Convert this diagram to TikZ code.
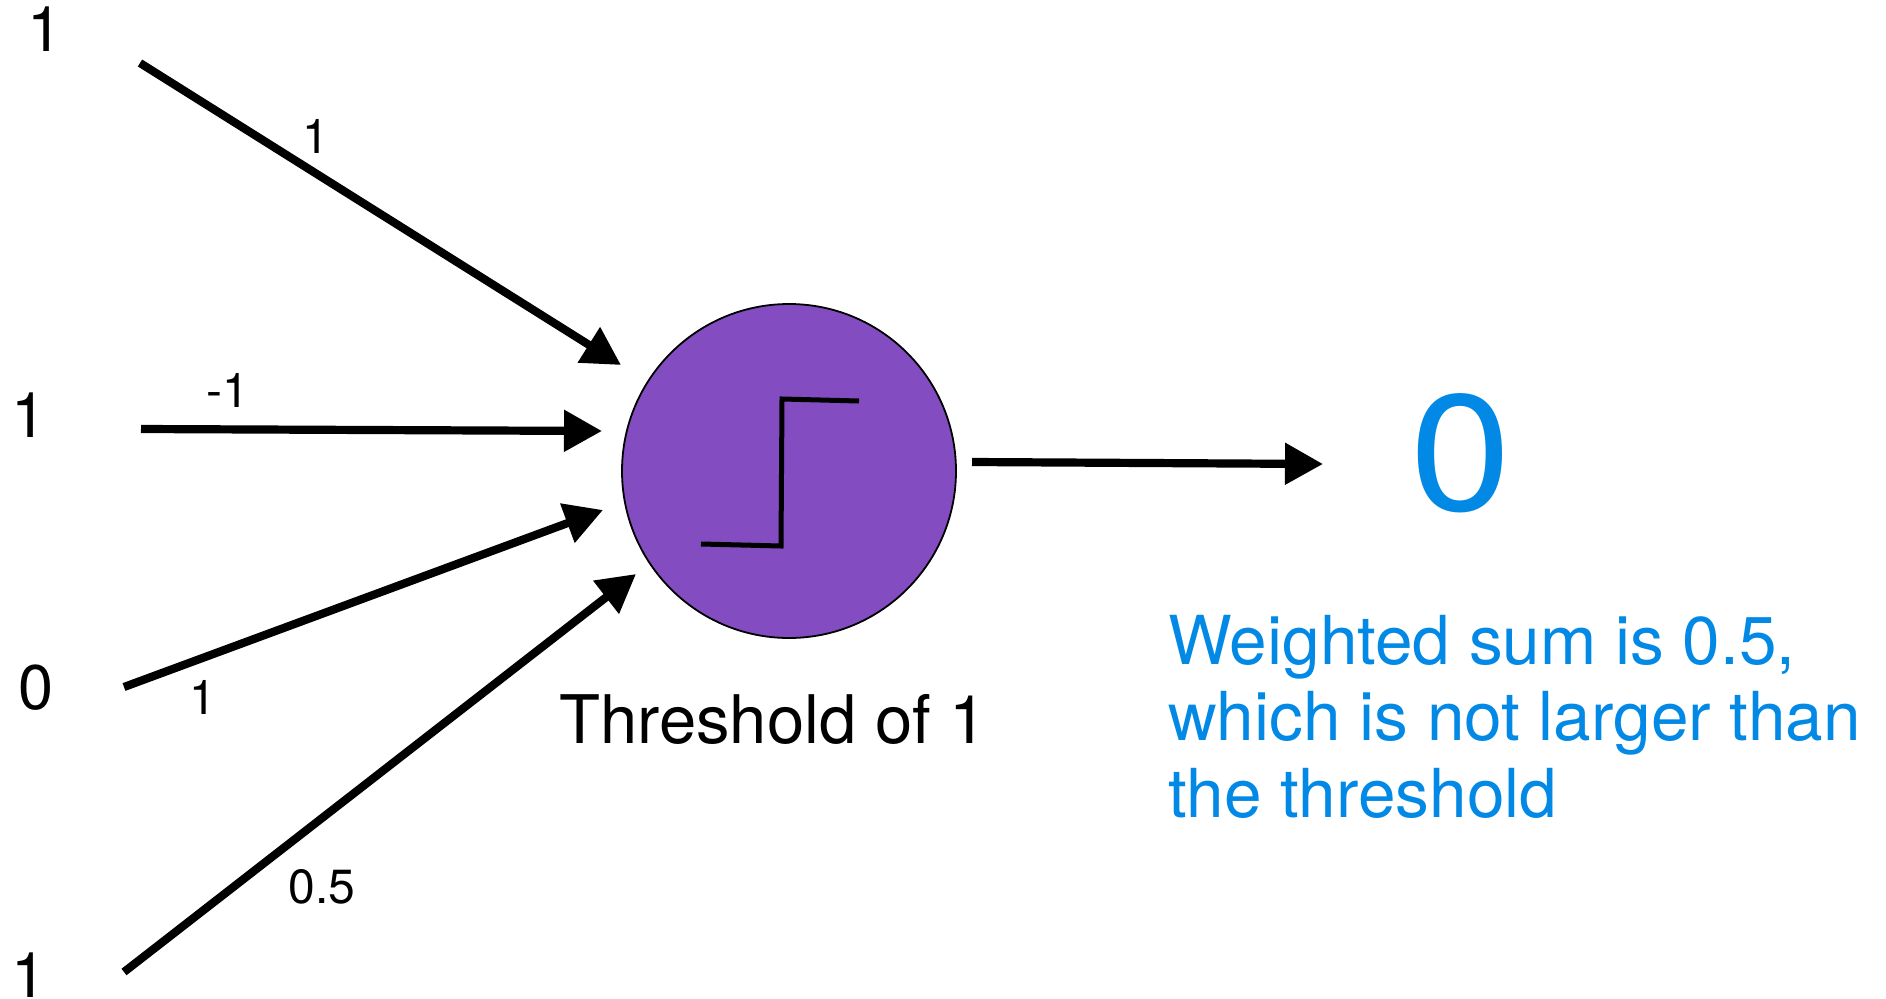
\documentclass[tikz,border=0pt]{standalone}
\usepackage{fontspec}
\setmainfont{TeX Gyre Heros}
\usetikzlibrary{arrows.meta}
\definecolor{neuronpurple}{RGB}{132,76,193}
\definecolor{noteblue}{RGB}{2,137,229}
\begin{document}
\begin{tikzpicture}[x=1pt,y=-1pt,
  inlabel/.style={inner sep=0pt, anchor=base, font=\fontsize{63}{70}\selectfont},
  wlabel/.style={inner sep=0pt, anchor=base, font=\fontsize{48}{54}\selectfont},
  inedge/.style={line width=8.2pt, -{Triangle[length=38pt,width=40pt]}},
  neuronstyle/.style={circle, draw=black, line width=1.8pt, fill=neuronpurple, minimum size=334pt, inner sep=0pt},
  stepline/.style={line width=5pt, line join=miter},
  bluetext/.style={text=noteblue, inner sep=0pt}]
\useasboundingbox (0,0) rectangle (1886,998);

% input values
\node[inlabel] (x1) at (45,52) {1};
\node[inlabel] (x2) at (29,437) {1};
\node[inlabel] (x3) at (36,709) {0};
\node[inlabel] (x4) at (29,997) {1};

% neuron
\node[neuronstyle] (neuron) at (789,471) {};
\draw[stepline] (701,544) -- (781,546) -- (782,399) -- (859,401);
\node[inner sep=0pt, anchor=base west, font=\fontsize{67}{74}\selectfont] (thr) at (559,743) {Threshold of 1};

% edge endpoints
\coordinate (s1) at (140,63);  \coordinate (t1) at (621,365);
\coordinate (s2) at (141,429); \coordinate (t2) at (602,431);
\coordinate (s3) at (124,687); \coordinate (t3) at (603,510);
\coordinate (s4) at (124,972); \coordinate (t4) at (636,574);
\coordinate (so) at (972,462); \coordinate (to) at (1323,464);

\draw[inedge] (s1) -- (t1);
\draw[inedge] (s2) -- (t2);
\draw[inedge] (s3) -- (t3);
\draw[inedge] (s4) -- (t4);
\draw[inedge] (so) -- (to);

% weights
\node[wlabel] (w1) at (316,153) {1};
\node[wlabel] (w2) at (228,407) {-1};
\node[wlabel] (w3) at (203,714) {1};
\node[wlabel] (w4) at (322,903) {0.5};

% output
\node[bluetext, anchor=base, xscale=1.1, font=\fontsize{165}{180}\selectfont] (out) at (1461,510) {0};
\node[bluetext, anchor=base west, align=left, font=\fontsize{67.5}{76.5}\selectfont] (note) at (1168,817)
  {Weighted sum is 0.5,\\which is not larger than\\the threshold};
\end{tikzpicture}
\end{document}
